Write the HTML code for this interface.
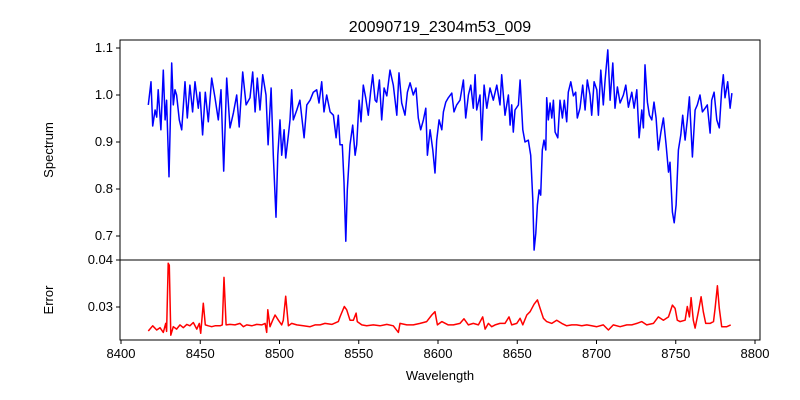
<!DOCTYPE html>
<html><head><meta charset="utf-8"><style>
body{margin:0;background:#fff}
svg{display:block;font-family:"Liberation Sans","DejaVu Sans",sans-serif}
</style></head><body>
<svg id="chart" width="800" height="400" viewBox="0 0 800 400"></svg>
<script>
const specWave=[8417.2,8418.9,8420.0,8421.5,8422.5,8423.5,8425.2,8426.7,8427.8,8428.8,8430.3,8432.0,8433.0,8434.1,8435.1,8436.8,8438.3,8440.4,8441.8,8443.5,8445.2,8446.7,8448.8,8449.8,8451.5,8453.2,8455.1,8457.2,8459.3,8461.4,8463.1,8464.8,8466.7,8468.8,8470.9,8473.0,8474.6,8476.8,8478.9,8481.4,8483.1,8484.6,8486.0,8487.7,8489.4,8491.5,8492.8,8494.7,8496.1,8497.8,8498.9,8500.3,8501.4,8502.9,8503.9,8505.6,8506.6,8507.7,8508.7,8510.9,8512.9,8515.5,8517.2,8519.3,8521.3,8523.5,8524.9,8526.6,8528.1,8529.8,8531.9,8534.0,8535.7,8537.1,
8538.2,8539.6,8540.7,8541.8,8542.8,8544.5,8546.2,8547.7,8548.7,8550.2,8551.4,8552.9,8554.4,8556.0,8557.5,8558.8,8560.3,8561.3,8563.0,8564.5,8566.0,8567.7,8569.7,8571.8,8574.0,8575.4,8577.1,8579.2,8580.7,8582.4,8584.4,8586.1,8587.6,8589.1,8590.8,8592.3,8593.3,8595.0,8596.7,8598.1,8599.2,8600.7,8602.4,8603.4,8604.9,8606.5,8608.7,8610.1,8611.8,8613.9,8616.0,8617.5,8619.2,8620.7,8622.3,8623.4,8624.4,8626.5,8627.6,8629.1,8630.8,8632.8,8634.9,8637.1,8639.1,8640.2,8642.3,8644.4,8645.5,8646.5,8647.5,8648.6,8650.7,8651.8,8653.5,8654.9,8657.0,8658.5,8659.8,8660.6,
8661.7,8662.7,8663.8,8664.8,8665.8,8666.9,8668.0,8668.6,8669.6,8670.7,8671.8,8672.8,8673.9,8675.6,8677.0,8678.5,8679.7,8681.2,8682.2,8683.8,8685.4,8686.9,8687.9,8689.6,8691.3,8692.8,8694.2,8695.9,8697.0,8698.5,8700.2,8701.2,8702.7,8704.3,8705.4,8707.1,8708.6,8710.3,8711.7,8713.2,8714.9,8717.0,8718.5,8720.1,8722.3,8723.7,8725.4,8726.9,8728.6,8729.6,8730.6,8732.1,8733.4,8734.9,8736.3,8737.6,8739.0,8740.6,8742.2,8743.9,8745.4,8746.4,8747.9,8749.0,8750.2,8751.7,8753.2,8754.4,8755.9,8757.3,8758.6,8760.5,8762.2,8763.6,8765.3,8766.8,8768.5,8769.9,8771.7,8772.7,8774.2,8775.9,8777.5,8779.0,8780.0,8781.1,8782.8,8784.3,8785.4];
const specFlux=[0.979,1.028,0.934,0.968,0.953,1.011,0.926,1.053,0.947,0.989,0.826,1.068,0.979,1.011,1.0,0.947,0.926,1.028,0.951,1.021,0.964,1.028,0.972,1.006,0.915,1.006,0.943,1.036,0.994,0.947,1.011,0.838,1.036,0.930,0.962,1.0,0.932,1.049,0.979,0.994,1.049,0.964,1.036,0.968,1.043,1.0,0.894,1.015,0.872,0.740,0.872,0.947,0.872,0.926,0.866,0.915,0.947,1.011,0.947,0.968,0.989,0.909,0.979,0.989,1.006,1.011,0.983,1.028,0.964,1.0,0.964,0.957,0.909,0.957,
0.894,0.894,0.815,0.689,0.798,0.894,0.936,0.872,0.894,0.989,0.943,1.021,0.994,0.957,1.006,1.043,0.989,0.985,1.032,0.947,1.015,0.998,1.053,1.021,0.957,1.047,0.983,0.957,1.006,1.026,1.0,1.015,0.951,0.926,0.947,0.972,0.872,0.926,0.883,0.834,0.904,0.947,0.926,0.964,0.985,0.994,1.004,0.964,0.979,0.989,1.032,0.951,1.0,1.021,0.972,1.043,0.968,1.0,0.904,1.021,0.972,1.015,0.989,1.021,0.979,1.043,0.957,1.0,0.936,0.979,0.921,0.968,0.979,1.032,0.926,0.9,0.904,0.872,0.777,0.670,
0.706,0.766,0.798,0.787,0.883,0.904,0.883,0.994,0.947,0.983,0.951,0.989,0.921,0.909,0.989,0.951,0.989,0.943,1.006,1.028,0.998,1.006,0.951,0.972,1.021,0.968,1.032,1.0,0.957,1.028,1.011,0.957,1.053,0.979,1.032,1.096,0.989,1.068,0.972,1.017,0.983,1.0,1.021,0.974,1.006,0.972,1.011,0.909,0.968,0.930,1.064,0.985,0.957,0.947,0.985,0.951,0.883,0.921,0.951,0.894,0.836,0.857,0.751,0.728,0.766,0.883,0.915,0.957,0.904,0.947,0.996,0.868,0.968,0.979,1.0,0.964,0.972,0.979,0.919,0.989,1.006,0.947,0.930,1.011,1.043,0.994,1.028,0.972,1.004];
const errWave=[8417.2,8420.0,8422.5,8424.6,8426.7,8428.2,8428.8,8429.8,8430.5,8431.4,8433.0,8435.1,8437.2,8439.3,8441.5,8443.5,8445.6,8447.8,8449.4,8450.3,8451.9,8453.2,8455.1,8457.2,8459.3,8462.5,8463.9,8465.0,8466.3,8468.8,8471.9,8475.1,8477.2,8479.3,8482.5,8485.6,8488.8,8490.9,8491.9,8492.6,8494.0,8495.7,8497.2,8499.3,8501.4,8502.4,8503.9,8505.6,8507.7,8510.9,8515.0,8519.3,8522.4,8525.6,8528.7,8533.0,8537.1,8538.2,8540.9,8542.4,8544.5,8546.6,8548.3,8549.1,8551.9,8555.0,8559.2,8563.4,8567.7,8571.8,8575.0,8576.0,8580.3,8584.4,8588.7,8592.9,8596.1,8598.1,8599.6,8602.4,8606.5,
8609.7,8613.9,8616.4,8619.2,8622.3,8625.5,8628.2,8629.7,8631.8,8633.9,8636.0,8639.1,8642.3,8644.8,8646.5,8649.7,8651.8,8653.5,8656.0,8658.1,8660.6,8662.7,8664.4,8666.5,8668.6,8671.8,8674.9,8678.1,8681.2,8684.4,8687.5,8690.7,8693.9,8697.0,8700.2,8704.3,8707.5,8710.6,8714.9,8719.1,8722.3,8725.4,8728.6,8731.7,8735.9,8739.0,8742.2,8745.4,8747.9,8749.6,8751.0,8752.7,8755.9,8757.3,8758.6,8759.7,8761.1,8762.2,8764.3,8766.0,8767.4,8768.9,8771.7,8773.8,8774.8,8776.3,8777.5,8779.0,8782.2,8784.7];
const errVal=[0.0249,0.0260,0.0251,0.0256,0.0246,0.0265,0.0248,0.0393,0.0389,0.0240,0.0258,0.0253,0.0262,0.0256,0.0263,0.0260,0.0267,0.0253,0.0265,0.0244,0.0308,0.0262,0.0260,0.0258,0.0260,0.0260,0.0262,0.0363,0.0262,0.0263,0.0262,0.0265,0.0258,0.0262,0.0260,0.0263,0.0262,0.0265,0.0246,0.0294,0.0258,0.0272,0.0283,0.0272,0.0262,0.0272,0.0323,0.0260,0.0265,0.0262,0.0260,0.0258,0.0262,0.0262,0.0265,0.0263,0.0269,0.0279,0.0301,0.0294,0.0272,0.0272,0.0287,0.0269,0.0262,0.0260,0.0262,0.0260,0.0263,0.0260,0.0246,0.0265,0.0262,0.0262,0.0265,0.0269,0.0283,0.0290,0.0262,0.0269,0.0262,
0.0262,0.0265,0.0275,0.0262,0.0265,0.0262,0.0279,0.0253,0.0265,0.0258,0.0262,0.0265,0.0265,0.0279,0.0262,0.0265,0.0276,0.0262,0.0283,0.0290,0.0306,0.0315,0.0297,0.0276,0.0269,0.0265,0.0272,0.0265,0.0260,0.0262,0.0262,0.0260,0.0262,0.0260,0.0258,0.0262,0.0251,0.0262,0.0258,0.0262,0.0262,0.0265,0.0269,0.0262,0.0265,0.0279,0.0272,0.0279,0.0304,0.0297,0.0272,0.0269,0.0272,0.0301,0.0279,0.0320,0.0272,0.0255,0.0290,0.0322,0.0290,0.0265,0.0265,0.0269,0.0297,0.0345,0.0297,0.0258,0.0258,0.0262];
const xTicks=[8400,8450,8500,8550,8600,8650,8700,8750,8800];
const specTicks=[0.7,0.8,0.9,1.0,1.1];
const errTicks=[0.03,0.04];

const NS="http://www.w3.org/2000/svg";
const svg=document.getElementById('chart');
function el(tag,attrs,parent){const e=document.createElementNS(NS,tag);for(const k in attrs)e.setAttribute(k,attrs[k]);(parent||svg).appendChild(e);return e;}
const L=120,R=760,T1=40,B1=260,T2=260,B2=340;
const xS=v=>121+(v-8400)*1.585;
const yS1=v=>95-(v-1.0)*470;
const yS2=v=>260+(0.04-v)*4700;

const t=el('text',{x:440,y:32,'text-anchor':'middle','font-size':16});t.textContent='20090719_2304m53_009';



let d='';specWave.forEach((w,i)=>{d+=(i?'L':'M')+xS(w).toFixed(1)+' '+yS1(specFlux[i]).toFixed(1);});
const p1=el('path',{d:d,fill:'none',stroke:'#0000ff','stroke-width':1.5,'stroke-linejoin':'round'});


let d2='';errWave.forEach((w,i)=>{d2+=(i?'L':'M')+xS(w).toFixed(1)+' '+yS2(errVal[i]).toFixed(1);});
const p2=el('path',{d:d2,fill:'none',stroke:'#ff0000','stroke-width':1.5,'stroke-linejoin':'round'});



const f1=el('rect',{x:L,y:T1,width:R-L,height:B1-T1,fill:'none',stroke:'#000','stroke-width':1});


const f2=el('rect',{x:L,y:T2,width:R-L,height:B2-T2,fill:'none',stroke:'#000','stroke-width':1});



specTicks.forEach(v=>{const y=yS1(v);
 const l=el('line',{x1:L-4,x2:L,y1:y,y2:y,stroke:'#000'});
 
 
 const tx=el('text',{x:L-7,y:y+4,'text-anchor':'end','font-size':13});tx.textContent=v.toFixed(1);
 
 
});
errTicks.forEach(v=>{const y=yS2(v);
 const l=el('line',{x1:L-4,x2:L,y1:y,y2:y,stroke:'#000'});
 
 
 const tx=el('text',{x:L-7,y:y+4,'text-anchor':'end','font-size':13});tx.textContent=v.toFixed(2);
 
 
});
xTicks.forEach(v=>{const x=xS(v);
 const l=el('line',{x1:x,x2:x,y1:B2,y2:B2+4,stroke:'#000'});
 
 
 const tx=el('text',{x:x,y:B2+18,'text-anchor':'middle','font-size':13});tx.textContent=v;
 
 
});
const yl1=el('text',{x:0,y:0,transform:'translate(53,150) rotate(-90)','text-anchor':'middle','font-size':13});yl1.textContent='Spectrum';


const yl2=el('text',{x:0,y:0,transform:'translate(53,300) rotate(-90)','text-anchor':'middle','font-size':13});yl2.textContent='Error';


const xl=el('text',{x:440,y:380,'text-anchor':'middle','font-size':13});xl.textContent='Wavelength';


</script>
</body></html>
